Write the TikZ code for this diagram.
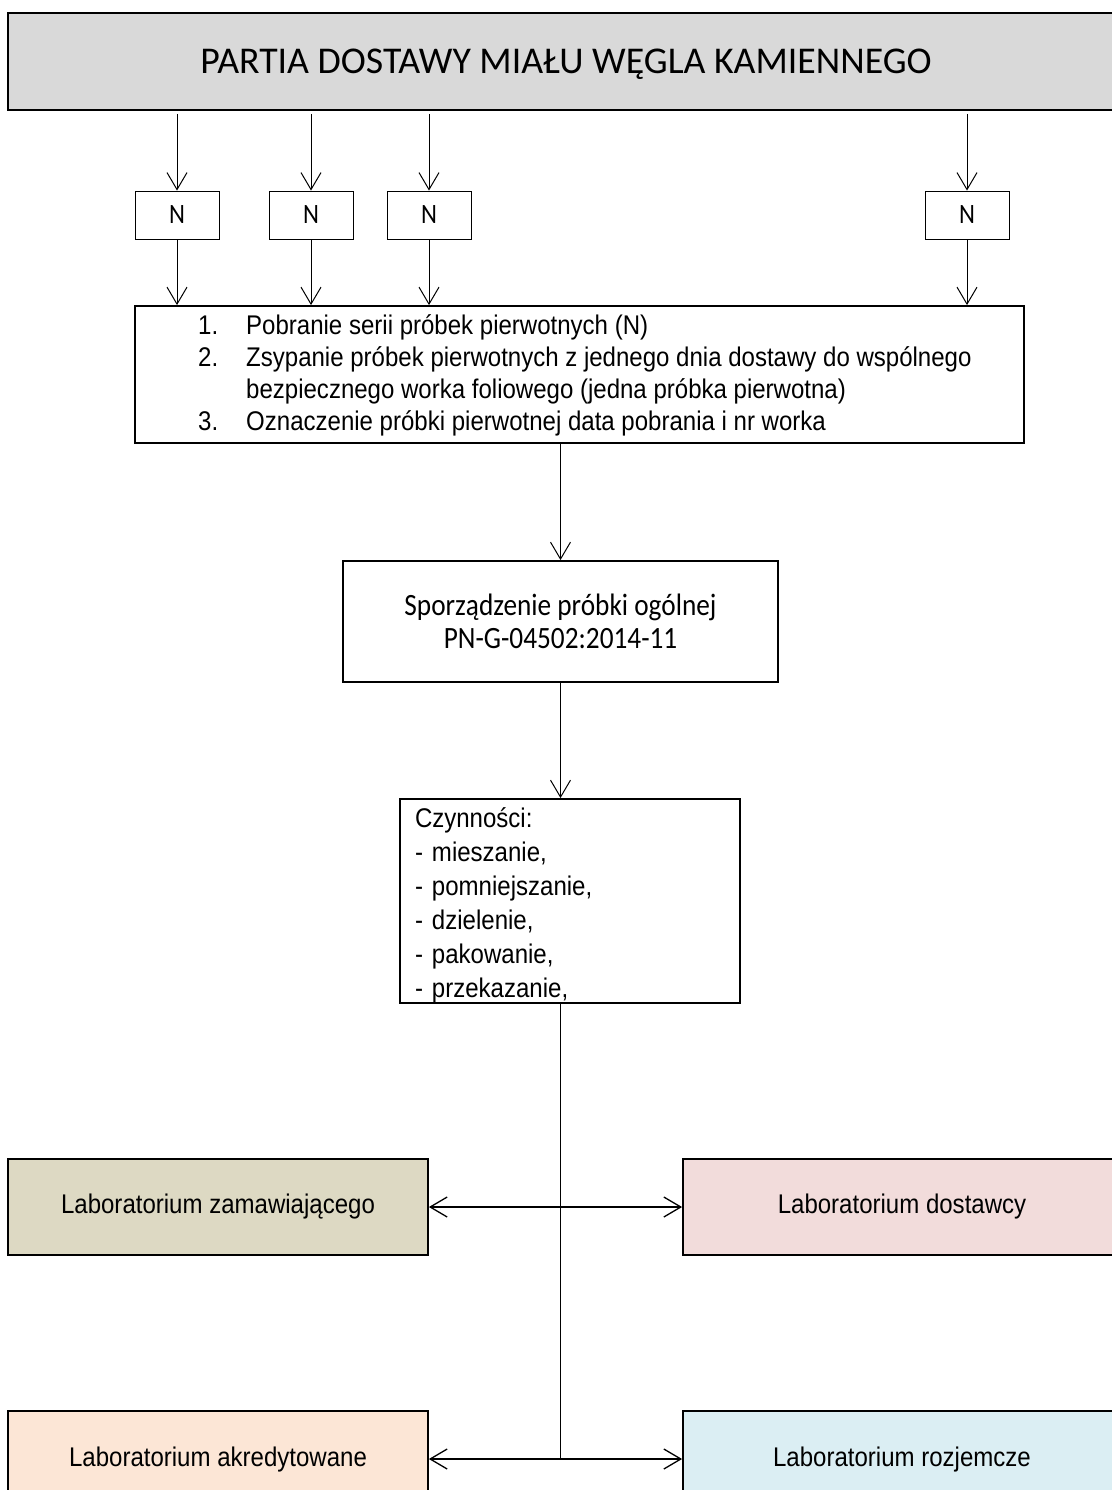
\documentclass[tikz,border=0pt]{standalone}
\usepackage{fontspec}
\setmainfont{Liberation Sans}
\newfontfamily\arialn[FakeStretch=0.89]{Liberation Sans}
\newfontfamily\calibri{Carlito}
\newfontfamily\calibrin[FakeStretch=0.88]{Carlito}
\usetikzlibrary{arrows.meta,positioning}

\definecolor{szary}{HTML}{D9D9D9}
\definecolor{khaki}{HTML}{DDD9C3}
\definecolor{rozowy}{HTML}{F2DCDB}
\definecolor{brzoskw}{HTML}{FCE6D6}
\definecolor{blekit}{HTML}{DBEEF3}

\begin{document}
\begin{tikzpicture}[x=1pt,y=-1pt,
    >={Straight Barb[length=17pt,width=20pt]},
    gruby/.style={draw,line width=1.8pt,inner sep=0pt},
    nbox/.style={draw,line width=0.9pt,minimum width=84pt,minimum height=48pt,
        inner sep=0pt,font=\calibrin\fontsize{28}{30}\selectfont},
    strz/.style={->,line width=1pt},
    lab/.style={gruby,minimum height=96pt,font=\arialn\fontsize{27}{30}\selectfont}]
    \useasboundingbox (0,0) rectangle (1111,1490);
    % Draw the delivery box
    \node[gruby,fill=szary,minimum width=1116pt,minimum height=97pt,text depth=0pt,
        font=\calibri\fontsize{37.8}{40}\selectfont] (partia) at (566,61.5)
        {PARTIA DOSTAWY MIAŁU WĘGLA KAMIENNEGO};
    % Draw the sample boxes N
    \foreach \i/\x in {1/177,2/311,3/429,4/967}
        \node[nbox] (n\i) at (\x,215) {N};
    % Draw the box with the list of steps
    \node[gruby,minimum width=889pt,minimum height=137pt] (pobranie) at (579.5,374.5) {};
    \node[anchor=base west,inner sep=0pt,align=left,
        font=\arialn\fontsize{27}{32}\selectfont] (lista) at (198,430)
        {\makebox[48pt][l]{1.}Pobranie serii próbek pierwotnych (N)\\
         \makebox[48pt][l]{2.}Zsypanie próbek pierwotnych z jednego dnia dostawy do wspólnego\\
         \hspace*{48pt}bezpiecznego worka foliowego (jedna próbka pierwotna)\\
         \makebox[48pt][l]{3.}Oznaczenie próbki pierwotnej data pobrania i nr worka};
    \foreach \i in {1,...,4} {
        \draw[strz,shorten <=3pt] (n\i.north |- partia.south) -- (n\i.north);
        \draw[strz] (n\i.south) -- (n\i.south |- pobranie.north);
    }
    % Draw the general sample and the activities
    \node[gruby,minimum width=435pt,minimum height=121pt,align=center,
        font=\calibrin\fontsize{31}{33}\selectfont] (ogolna) at (560.5,621.5)
        {Sporządzenie próbki ogólnej\\PN-G-04502:2014-11};
    \node[gruby,minimum width=340pt,minimum height=204pt,text width=310pt,
        inner xsep=15pt,align=left,font=\arialn\fontsize{27}{34}\selectfont]
        (czynnosci) at (570,901)
        {\rule{0pt}{28pt}Czynności:\\- mieszanie,\\- pomniejszanie,\\- dzielenie,\\- pakowanie,\\- przekazanie,};
    \draw[strz] (ogolna.north |- pobranie.south) -- (ogolna.north);
    \draw[strz] (ogolna.south) -- (ogolna.south |- czynnosci.north);
    % Draw the laboratories
    \node[lab,fill=khaki,minimum width=420pt] (labzam) at (218,1207) {Laboratorium zamawiającego};
    \node[lab,fill=rozowy,minimum width=438pt] (labdost) at (902,1207) {Laboratorium dostawcy};
    \node[lab,fill=brzoskw,minimum width=420pt] (labakr) at (218,1459) {Laboratorium akredytowane};
    \node[lab,fill=blekit,minimum width=438pt] (labroz) at (902,1459) {Laboratorium rozjemcze};
    \draw[line width=1pt] (ogolna.south |- czynnosci.south) -- (ogolna.south |- labakr.east);
    \draw[<->,line width=1.3pt] (labzam.east) -- (labdost.west);
    \draw[<->,line width=1.3pt] (labakr.east) -- (labroz.west);
\end{tikzpicture}
\end{document}
